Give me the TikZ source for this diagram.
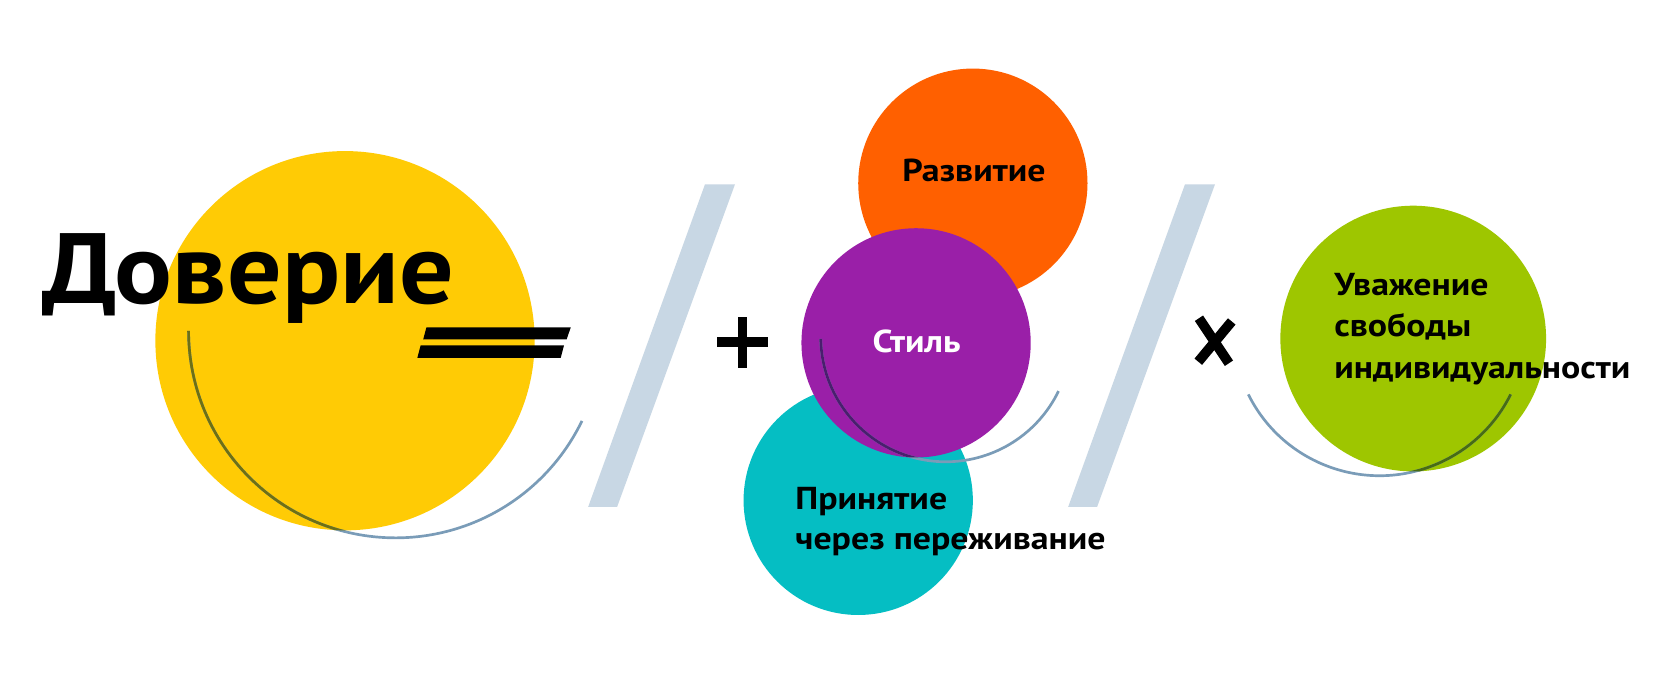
\documentclass[tikz,border=0pt]{standalone}
\usepackage{fontspec}
\setmainfont{PT Sans}
\newfontfamily\ptb{PT Sans Bold}[FakeStretch=1.13]
\newfontfamily\ptbig{PT Sans Bold}[FakeStretch=1.08]
\definecolor{cyel}{RGB}{255,203,5}
\definecolor{corange}{RGB}{255,96,0}
\definecolor{cpurple}{RGB}{154,31,168}
\definecolor{ccyan}{RGB}{5,190,195}
\definecolor{cgreen}{RGB}{158,198,0}
\definecolor{cslash}{RGB}{200,215,228}
\definecolor{carc}{RGB}{122,156,184}
\definecolor{carcY}{RGB}{110,112,20}
\definecolor{carcP}{RGB}{74,30,110}
\definecolor{carcG}{RGB}{72,108,20}
\tikzset{
  disc/.style={circle, inner sep=0pt, fill=#1},
  lbl/.style={inner sep=0pt, font=\ptb\fontsize{14.8}{18}\selectfont},
  arcline/.style={line width=1.25pt, draw=#1},
  slashbar/.style={fill=cslash},
  signbar/.style={fill=black}
}
\begin{document}
\begin{tikzpicture}[x=0.5pt,y=-0.5pt]
\useasboundingbox (0,0) rectangle (1568,651);
\fill[white] (0,0) rectangle (1568,651);
% slashes
\fill[slashbar] (658,172) -- (686,172) -- (576,473) -- (549,473) -- cycle;
\fill[slashbar] (1106,172) -- (1134,172) -- (1024,473) -- (997,473) -- cycle;
% yellow
\node[disc=cyel, minimum size=177pt] (yel) at (322,318) {};
\node[inner sep=0pt, anchor=base west, font=\ptbig\fontsize{46.6}{50}\selectfont] (dov) at (39,283) {Доверие};
\fill[signbar] (398,305.5) -- (532.7,305.5) -- (528.9,316.7) -- (395,316.7) -- cycle;
\fill[signbar] (392.6,322.3) -- (526.4,322.3) -- (523.3,334.1) -- (389.5,334.1) -- cycle;
\draw[arcline=carc] (369.2,308.8) ++(180:193.2) arc[start angle=180, end angle=25.8, radius=193.2];
\begin{scope}
\clip (322,318) circle[radius=177];
\draw[arcline=carcY] (369.2,308.8) ++(180:193.2) arc[start angle=180, end angle=25.8, radius=193.2];
\end{scope}
% plus
\fill[signbar] (688.5,295.6) rectangle (697,343.8);
\fill[signbar] (669,314.8) rectangle (717,323.8);
% middle circles
\node[disc=corange, minimum size=107pt] (ora) at (908,171) {};
\node[disc=ccyan, minimum size=107pt] (cya) at (801,467) {};
\node[disc=cpurple, minimum size=107pt] (pur) at (855,320) {};
\node[lbl, anchor=base] (raz) at (909,169.6) {Развитие};
\node[lbl, anchor=base, text=white] (sti) at (855.5,329) {Стиль};
\draw[arcline=carc] (882.8,314.2) ++(179:116.8) arc[start angle=179, end angle=25.8, radius=116.8];
\begin{scope}
\clip (855,320) circle[radius=107];
\draw[arcline=carcP] (882.8,314.2) ++(179:116.8) arc[start angle=179, end angle=25.8, radius=116.8];
\end{scope}
\node[lbl, anchor=base west] (pri) at (742,475.4) {\vtop{\baselineskip=18.65pt\hbox{Принятие}\hbox{через переживание}}};
% times
\draw[line width=4.6pt] (1119,297) -- (1147,339);
\draw[line width=4.6pt] (1149.6,300) -- (1118.4,337.6);
% green
\node[disc=cgreen, minimum size=124pt] (gre) at (1319,316) {};
\draw[arcline=carc] (1287.5,307.3) ++(153.6:136.7) arc[start angle=153.6, end angle=26.4, radius=136.7];
\begin{scope}
\clip (1319,316) circle[radius=124];
\draw[arcline=carcG] (1287.5,307.3) ++(153.6:136.7) arc[start angle=153.6, end angle=26.4, radius=136.7];
\end{scope}
\node[lbl, anchor=base west] (uva) at (1245,276) {\vtop{\baselineskip=19.25pt\hbox{Уважение}\hbox{свободы}\hbox{индивидуальности}}};
\end{tikzpicture}
\end{document}
